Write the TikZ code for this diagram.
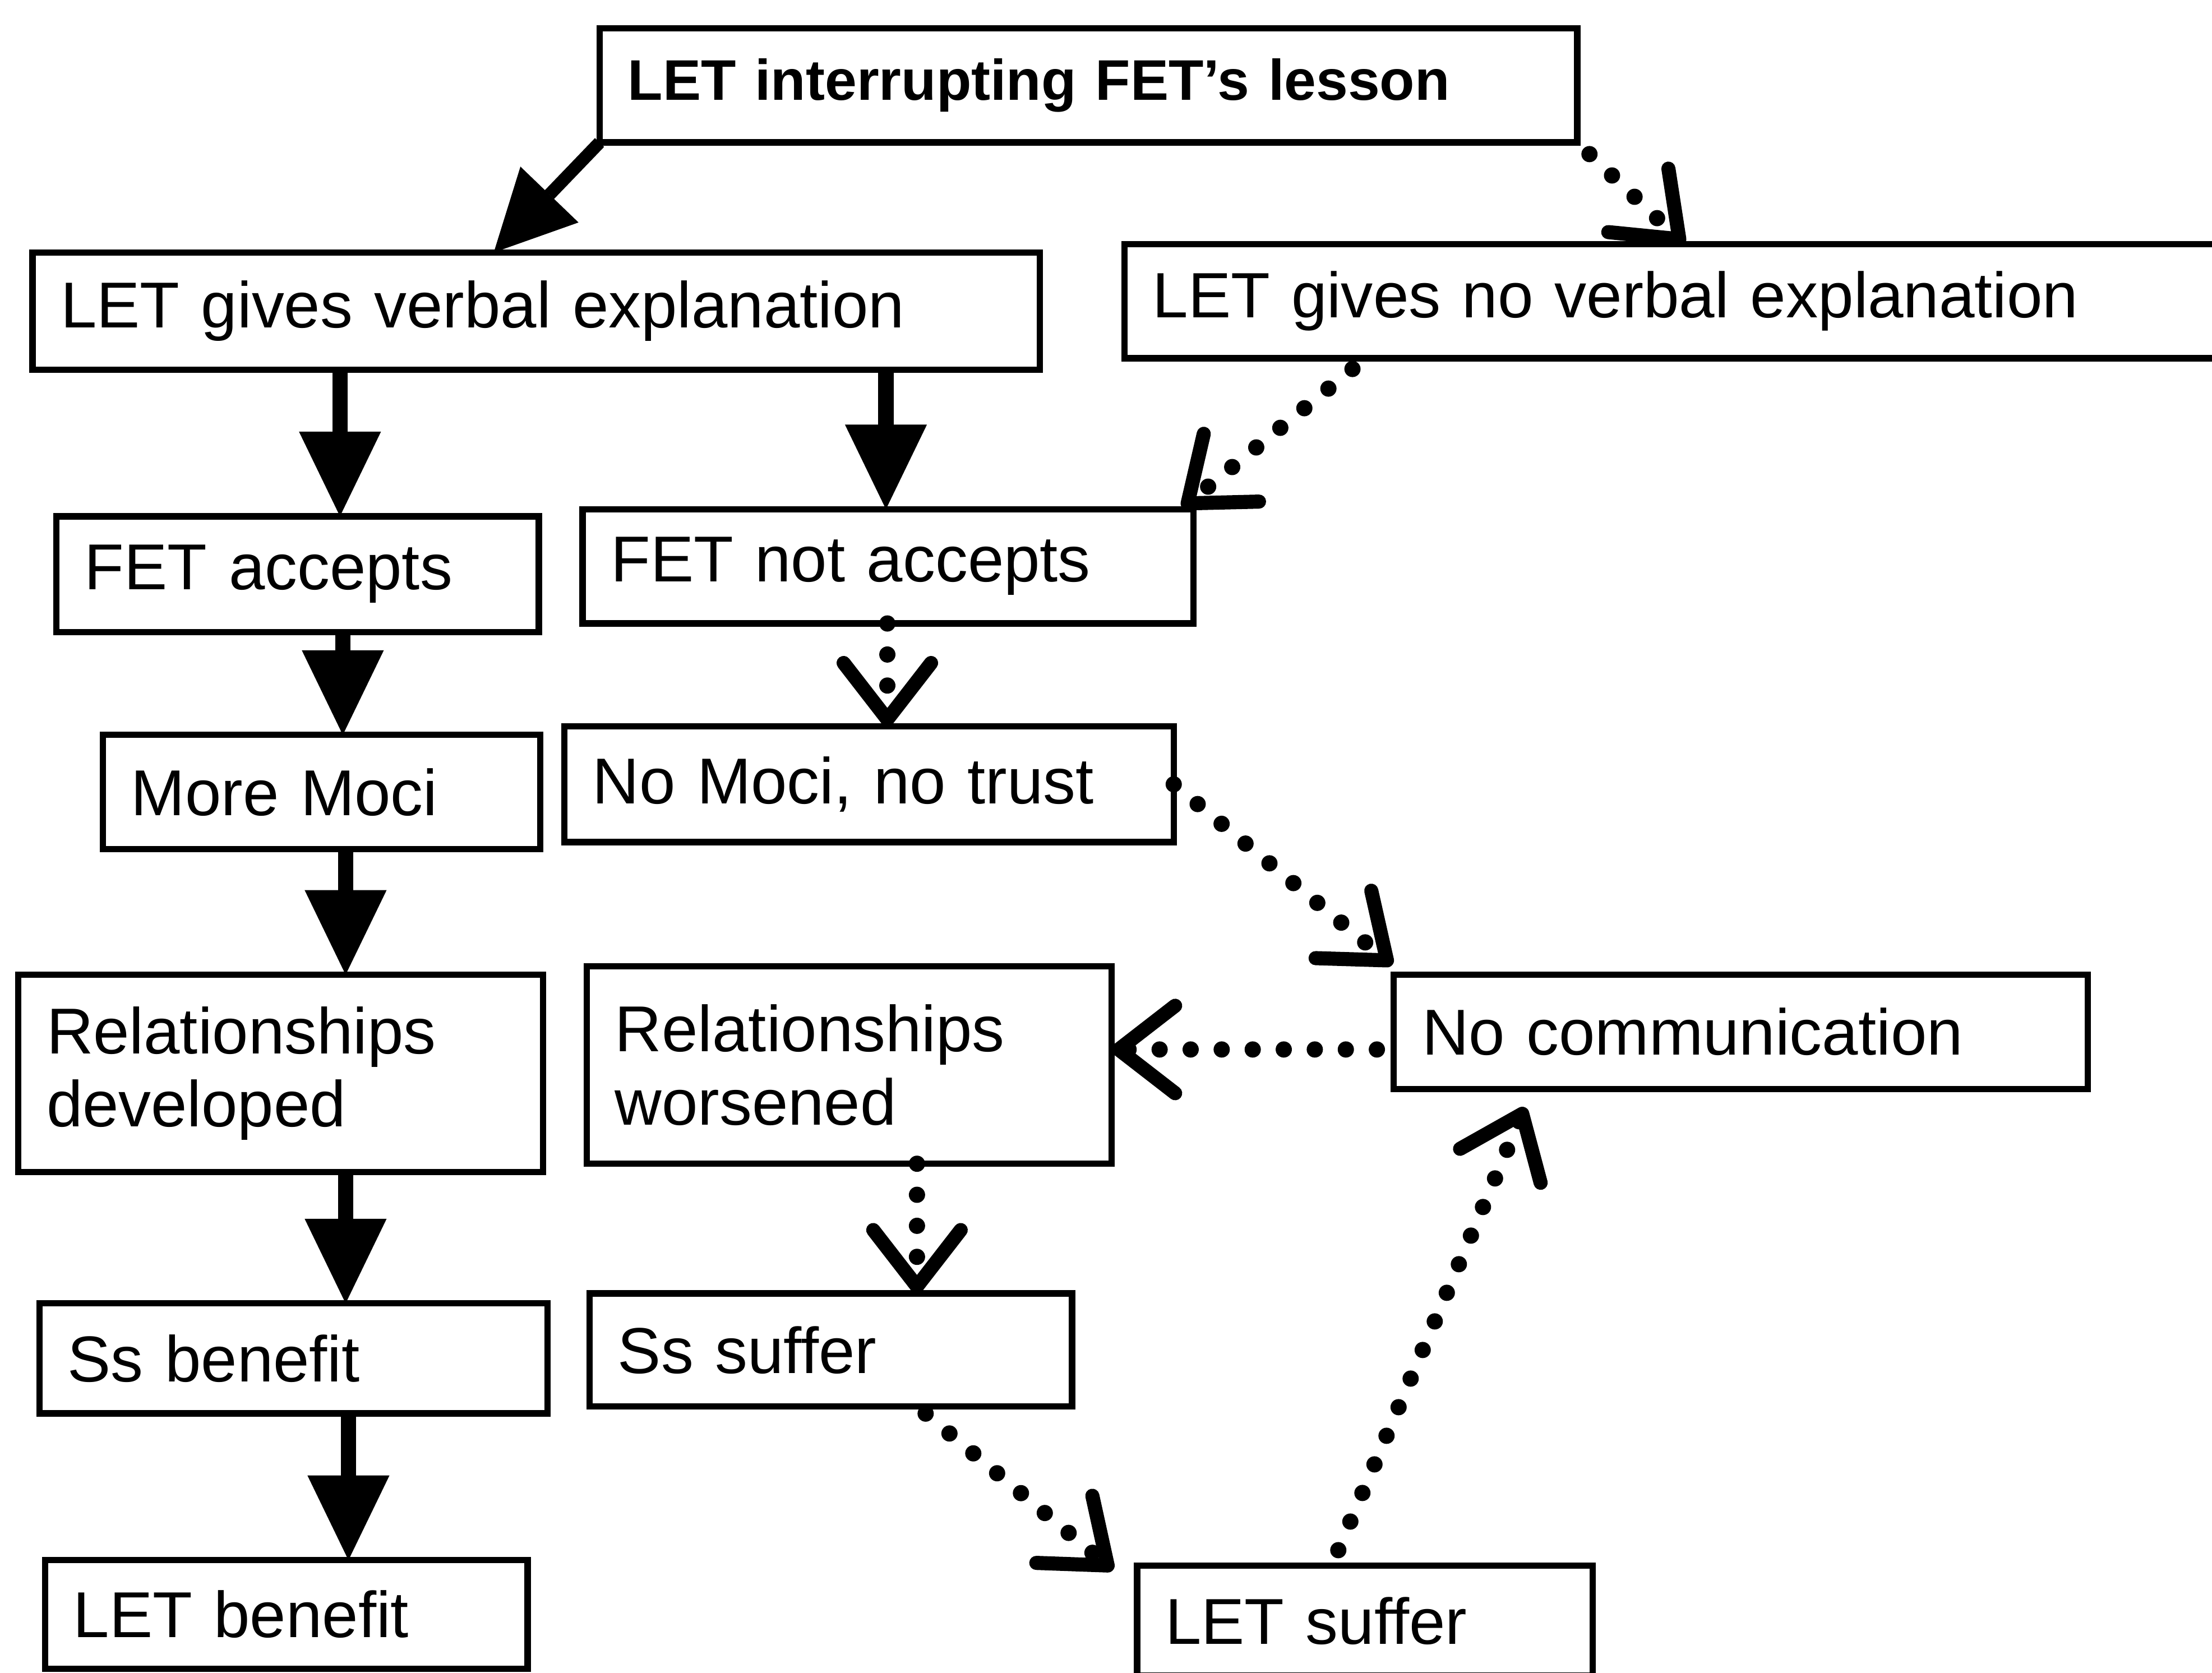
\documentclass[tikz,border=0pt]{standalone}
\usepackage{fontspec}
\setmainfont{Liberation Sans}
\usetikzlibrary{arrows.meta,calc}
\tikzset{
  box/.style={draw, line width=4.5pt, anchor=north west, inner xsep=20pt, inner ysep=0pt,
    outer sep=0pt, align=left, font=\fontsize{46}{52}\selectfont},
  solidarrow/.style={line width=11pt, -{Triangle[length=60pt,width=58pt,line width=0.5pt]}},
  dotarrow/.style={line width=11.5pt, line cap=round, dash pattern=on 0pt off 22pt,
    -{Straight Barb[length=40pt,width=62pt,line width=10pt,round]}},
}
\begin{document}
\begin{tikzpicture}[x=1pt,y=-1pt]
\useasboundingbox (0,0) rectangle (1568,1186);
\fill[white] (0,0) rectangle (1568,1186);
\clip (0,0) rectangle (1568,1186);

% boxes
\node[box, minimum width=693pt, minimum height=81pt, text width=653pt,
  font=\bfseries\fontsize{40.6}{47}\selectfont] (top) at (425,20) {LET interrupting FET’s lesson};
\node[box, minimum width=714pt, minimum height=83pt, text width=674pt] (verbal) at (23,179) {LET gives verbal explanation};
\node[box, minimum width=823pt, minimum height=81pt, text width=783pt,
  font=\fontsize{45.4}{52}\selectfont] (nv) at (797,173) {LET gives no verbal explanation};
\node[box, minimum width=342pt, minimum height=82pt, text width=302pt] (fa) at (40,366) {FET accepts};
\node[box, minimum width=433pt, minimum height=81pt, text width=393pt] (fna) at (413,361) {FET not accepts};
\node[box, minimum width=310pt, minimum height=81pt, text width=270pt] (mm) at (73,521) {More Moci};
\node[box, minimum width=432pt, minimum height=82pt, text width=392pt] (nm) at (400,515) {No Moci, no trust};
\node[box, minimum width=372pt, minimum height=140pt, text width=332pt] (rd) at (13,691) {Relationships\\developed};
\node[box, minimum width=372pt, minimum height=140pt, text width=332pt] (rw) at (416,685) {Relationships\\worsened};
\node[box, minimum width=492pt, minimum height=81pt, text width=452pt] (nc) at (988,691) {No communication};
\node[box, minimum width=360pt, minimum height=78pt, text width=320pt] (sb) at (28,924) {Ss benefit};
\node[box, minimum width=342pt, minimum height=80pt, text width=302pt] (ssu) at (418,917) {Ss suffer};
\node[box, minimum width=342pt, minimum height=77pt, text width=302pt] (lb) at (32,1106) {LET benefit};
\node[box, minimum width=323pt, minimum height=78pt, text width=283pt] (ls) at (806,1110) {LET suffer};

% helper columns / rows
\coordinate (c350) at (350,0);
\coordinate (c241) at (241,0);
\coordinate (c628) at (628,0);
\coordinate (c243) at (243,0);
\coordinate (c245) at (245,0);
\coordinate (c247) at (247,0);
\coordinate (c1194) at (1194,0);
\coordinate (c968) at (968,0);
\coordinate (c629) at (629,0);
\coordinate (c650) at (650,0);
\coordinate (c944) at (944,0);
\coordinate (c1081) at (1081,0);
\coordinate (r744) at (0,744);

% solid arrows
\draw[solidarrow, line width=9pt, -{Triangle[length=57pt,width=57pt,line width=0.5pt]}]
  (top.south west) -- (verbal.north -| c350);
\draw[solidarrow] (verbal.south -| c241) -- (fa.north -| c241);
\draw[solidarrow] (verbal.south -| c628) -- (fna.north -| c628);
\draw[solidarrow] (fa.south -| c243) -- (mm.north -| c243);
\draw[solidarrow] (mm.south -| c245) -- (rd.north -| c245);
\draw[solidarrow] (rd.south -| c245) -- (sb.north -| c245);
\draw[solidarrow] (sb.south -| c247) -- (lb.north -| c247);

% dotted arrows
\draw[dotarrow, shorten <=12pt] (top.south east) -- (nv.north -| c1194);
\draw[dotarrow, shorten <=12pt] (nv.south -| c968) -- ($(fna.north east)+(-8pt,1pt)$);
\draw[dotarrow] (fna.south -| c629) -- (nm.north -| c629);
\draw[dotarrow] (nm.east) -- ($(nc.north west)+(-1pt,7pt)$);
\draw[dotarrow, shorten <=12pt] (nc.west |- r744) -- (rw.east |- r744);
\draw[dotarrow] (rw.south -| c650) -- (ssu.north -| c650);
\draw[dotarrow, shorten <=8pt] (ssu.south -| c650) -- ($(ls.north west)+(-17pt,-3pt)$);
\draw[dotarrow, shorten <=12pt] (ls.north -| c944) -- ($(nc.south -| c1081)+(0pt,-13pt)$);
\end{tikzpicture}
\end{document}
